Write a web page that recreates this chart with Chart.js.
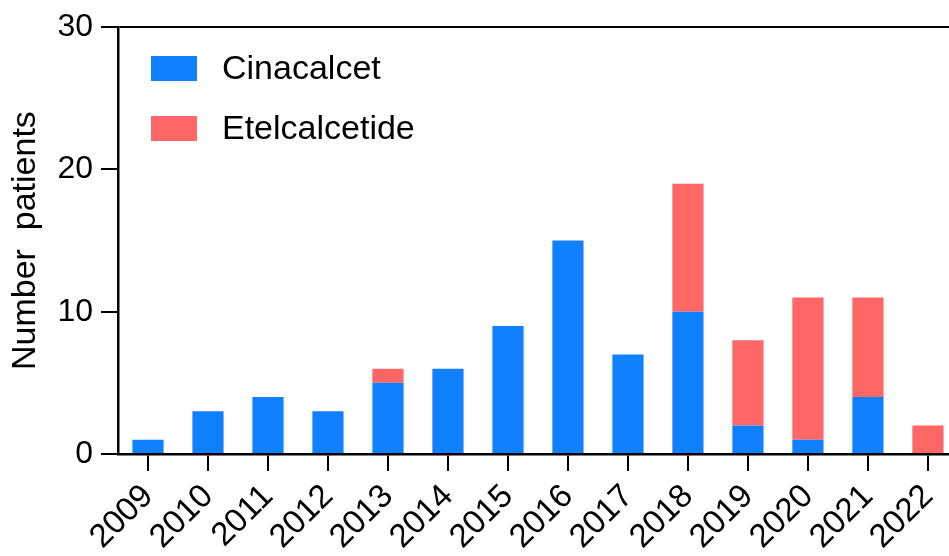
<!DOCTYPE html>
<html>
<head>
<meta charset="utf-8">
<script src="https://cdn.jsdelivr.net/npm/chart.js@4/dist/chart.umd.min.js"></script>
<style>
  html, body { margin: 0; padding: 0; background: #fff; overflow: hidden; }
  #wrap { width: 949px; height: 556px; overflow: hidden; }
</style>
</head>
<body>
<div id="wrap"><canvas id="chart" width="962" height="556"></canvas></div>
<script>
var years = ['2009', '2010', '2011', '2012', '2013', '2014', '2015', '2016', '2017', '2018', '2019', '2020', '2021', '2022'];
var cinacalcet = [1, 3, 4, 3, 5, 6, 9, 15, 7, 10, 2, 1, 4, 0];
var etelcalcetide = [0, 0, 0, 0, 1, 0, 0, 0, 0, 9, 6, 10, 7, 2];
var yTicks = [0, 10, 20, 30];

var FONT = 'Liberation Sans, Arial, Helvetica, sans-serif';

// legend drawn inside the plot, top left
var innerLegend = {
    id: 'innerLegend',
    afterDraw: function (chart) {
        var ctx = chart.ctx;
        ctx.save();
        ctx.font = '34px ' + FONT;
        ctx.textBaseline = 'middle';
        chart.data.datasets.forEach(function (ds, i) {
            var cy = 68.5 + i * 60;
            ctx.fillStyle = ds.backgroundColor;
            ctx.fillRect(151, cy - 12.5, 46, 25);
            ctx.fillStyle = '#000';
            ctx.fillText(ds.label, 222, cy + 1);
        });
        ctx.restore();
    }
};

new Chart(document.getElementById('chart').getContext('2d'), {
    type: 'bar',
    data: {
        labels: years,
        datasets: [
            { label: 'Cinacalcet', data: cinacalcet, backgroundColor: '#1180FF' },
            { label: 'Etelcalcetide', data: etelcalcetide, backgroundColor: '#FF6666' }
        ]
    },
    options: {
        responsive: false,
        animation: false,
        devicePixelRatio: 1,
        layout: { padding: { top: 24, right: 2, left: 0, bottom: 0 } },
        plugins: { legend: { display: false }, tooltip: { enabled: false } },
        datasets: { bar: { categoryPercentage: 1, barPercentage: 0.52 } },
        scales: {
            x: {
                stacked: true,
                offset: true,
                grid: { display: true, offset: false, drawOnChartArea: false, tickLength: 17, tickColor: '#000', lineWidth: 2 },
                border: { display: true, color: '#000', width: 2.5 },
                ticks: {
                    color: '#000',
                    font: { family: FONT, size: 33 },
                    maxRotation: 45,
                    minRotation: 45,
                    padding: 6,
                    autoSkip: false
                },
                afterFit: function (s) { s.height = 102; }
            },
            y: {
                stacked: true,
                min: 0,
                max: 30,
                afterBuildTicks: function (s) {
                    s.ticks = yTicks.map(function (v) { return { value: v }; });
                },
                grid: {
                    tickLength: 17,
                    tickColor: '#000',
                    lineWidth: 2,
                    color: function (c) { return c.tick && c.tick.value === 30 ? '#000' : 'rgba(0,0,0,0)'; }
                },
                border: { display: true, color: '#000', width: 2.5 },
                ticks: { color: '#000', font: { family: FONT, size: 32 }, padding: 8 },
                title: {
                    display: true,
                    text: 'Number  patients',
                    color: '#000',
                    font: { family: FONT, size: 34 },
                    padding: { top: 5, bottom: 0 }
                },
                afterFit: function (s) { s.width = 118; }
            }
        }
    },
    plugins: [innerLegend]
});
</script>
</body>
</html>
